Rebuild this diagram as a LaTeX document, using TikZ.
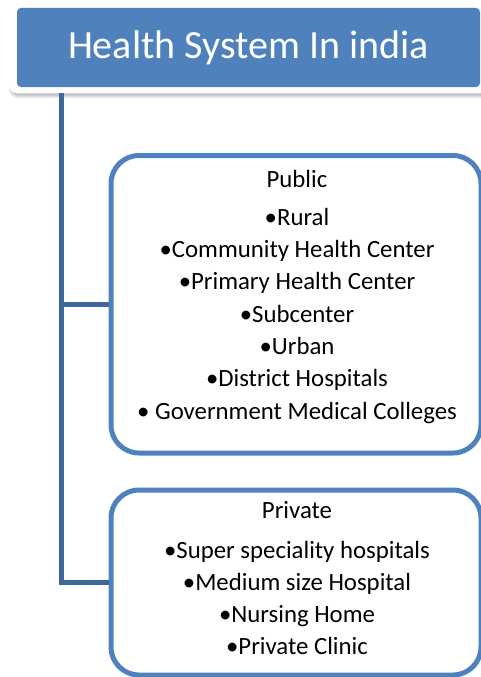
\documentclass[tikz,border=0pt]{standalone}
\usepackage{fontspec}
\setmainfont{Carlito}
\definecolor{boxblue}{HTML}{4F81BD}
\definecolor{linkblue}{HTML}{41689B}
\begin{document}
\begin{tikzpicture}[x=1pt,y=-1pt,
  boxframe/.style={draw=boxblue,line width=5pt,fill=white,rounded corners=28pt,rectangle,inner sep=0pt},
  link/.style={draw=linkblue,line width=5pt},
  head/.style={anchor=base,font=\fontsize{24.8}{29}\selectfont,text=black,inner sep=0pt},
  item/.style={anchor=base,font=\fontsize{24.8}{29}\selectfont,text=black,inner sep=0pt}]
\useasboundingbox (0,0) rectangle (481,677);
% title shadow and frame
\fill[black,opacity=0.10,rounded corners=9pt] (9,4) rectangle (492,98);
\fill[black,opacity=0.12,rounded corners=8pt] (11,5) rectangle (490,96);
\fill[white,rounded corners=8pt] (9,2) rectangle (488,93);
\node[rectangle,fill=boxblue,rounded corners=4pt,minimum width=463pt,minimum height=79pt,inner sep=0pt,
      text=white,font=\fontsize{40}{48}\selectfont] (title) at (248.5,47.5) {Health System In india};
% boxes
\node[boxframe,minimum width=370pt,minimum height=297.5pt] (pub) at (296,304.25) {};
\node[boxframe,minimum width=370pt,minimum height=185pt] (priv) at (296,582.5) {};
% connectors
\coordinate (trunk) at (61,93);
\draw[link] (trunk) |- (priv.west);
\draw[link] (trunk |- pub.west) -- (pub.west);
% texts
\node[head] (pubhead) at (297,187) {Public};
\foreach \t [count=\i] in {•Rural,•Community Health Center,•Primary Health Center,•Subcenter,•Urban,•District Hospitals,• Government Medical Colleges}
  \node[item] (pub\i) at (297,{225+(\i-1)*32.35}) {\t};
\node[head] (privhead) at (297,518) {Private};
\foreach \t [count=\i] in {•Super speciality hospitals,•Medium size Hospital,•Nursing Home,•Private Clinic}
  \node[item] (priv\i) at (297,{558+(\i-1)*32}) {\t};
\end{tikzpicture}
\end{document}
